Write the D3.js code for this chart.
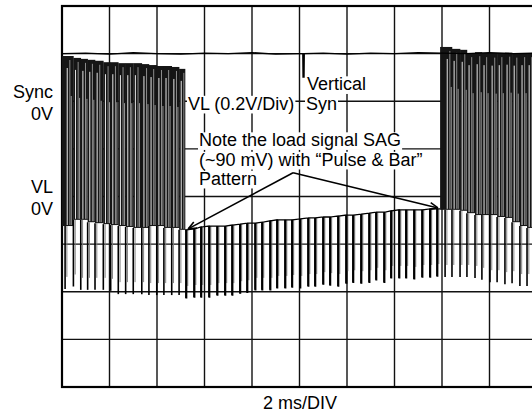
<!DOCTYPE html>
<html>
<head>
<meta charset="utf-8">
<script src="https://cdn.jsdelivr.net/npm/d3@7"></script>
<style>
  body { margin: 0; background: #fff; }
  svg text { font-family: "Liberation Sans", Arial, Helvetica, sans-serif; fill: #000; }
</style>
</head>
<body>
<div id="chartContainer"></div>
<script>
// horizontal sync spikes: time (ms, 2 ms/div) and levels (divisions from bottom)
const leftSpikeMs = [0.13, 0.48, 0.79, 1.08, 1.39, 1.74, 2.05, 2.37, 2.68, 3.00, 3.36, 3.66, 3.99, 4.29, 4.62, 4.93];
const leftSpikeLow = [2.06, 2.11, 2.04, 2.04, 2.04, 2.04, 2.02, 1.95, 1.95, 1.95, 1.95, 1.93, 1.93, 1.93, 1.93, 1.93];
const leftLevel = [3.38, 3.51, 3.51, 3.46, 3.44, 3.42, 3.40, 3.38, 3.36, 3.34, 3.34, 3.38, 3.38, 3.34, 3.34, 3.30];
const leftTop = [6.95, 6.91, 6.89, 6.87, 6.85, 6.82, 6.82, 6.80, 6.80, 6.80, 6.78, 6.76, 6.74, 6.74, 6.72, 6.68];

const midSpikeMs = [5.22, 5.56, 5.85, 6.19, 6.53, 6.86, 7.16, 7.49, 7.79, 8.13, 8.42, 8.76, 9.05, 9.39, 9.68,
  10.02, 10.36, 10.65, 10.99, 11.28, 11.62, 11.96, 12.25, 12.59, 12.93, 13.22, 13.56, 13.85, 14.19, 14.48,
  14.82, 15.16, 15.49, 15.79];
const midSpikeLow = [1.87, 1.89, 1.89, 1.89, 1.93, 1.93, 1.93, 1.97, 1.99, 2.04, 2.04, 2.04, 2.08, 2.08, 2.10,
  2.08, 2.12, 2.12, 2.16, 2.14, 2.12, 2.18, 2.20, 2.18, 2.20, 2.25, 2.20, 2.29, 2.29, 2.29,
  2.27, 2.31, 2.31, 2.33];
const midLevel = [3.30, 3.32, 3.36, 3.38, 3.38, 3.38, 3.40, 3.42, 3.44, 3.44, 3.46, 3.49, 3.51, 3.51, 3.51,
  3.53, 3.55, 3.55, 3.57, 3.57, 3.59, 3.61, 3.61, 3.63, 3.65, 3.67, 3.67, 3.70, 3.72, 3.72,
  3.72, 3.72, 3.74, 3.74];

const rightSpikeMs = [16.13, 16.42, 16.76, 17.05, 17.39, 17.68, 18.02, 18.32, 18.65, 18.95, 19.28, 19.58];
const rightSpikeLow = [2.31, 2.31, 2.31, 2.31, 2.29, 2.25, 2.20, 2.20, 2.16, 2.18, 2.12, 2.12];
const rightLevel = [3.72, 3.72, 3.70, 3.65, 3.61, 3.61, 3.61, 3.57, 3.55, 3.46, 3.38, 3.34];
const rightTop = [7.14, 7.10, 7.08, 7.01, 7.03, 7.01, 7.00, 7.01, 7.02, 7.00, 7.01, 7.01];

const leftBlockMs = [0, 5.18];
const rightBlockMs = [15.92, 20];

// sync channel trace with the vertical sync pulse
const syncMs = [0, 1, 2, 3, 4, 5, 6, 7, 8, 9, 10, 10.14, 10.15, 10.19, 10.2, 11, 12, 13, 14, 15, 16, 17, 18, 19, 20];
const syncDiv = [7.0, 7.01, 6.99, 7.02, 7.0, 6.99, 7.01, 7.0, 7.02, 6.99, 7.0, 7.0, 6.51, 6.51, 7.0, 7.01, 6.99, 7.01, 7.0, 7.02, 7.01, 7.0, 7.02, 7.0, 7.01];

const svg = d3.select("#chartContainer")
  .append("svg")
  .attr("width", 532)
  .attr("height", 412);

svg.append("rect").attr("width", 532).attr("height", 412).attr("fill", "#fff");

const x = d3.scaleLinear().domain([0, 20]).range([62, 537]);
const y = d3.scaleLinear().domain([0, 8]).range([387, 6]);

// graticule
svg.append("g")
  .selectAll("line")
  .data(x.ticks(10))
  .enter()
  .append("line")
  .attr("x1", d => x(d)).attr("x2", d => x(d))
  .attr("y1", y(0)).attr("y2", y(8))
  .attr("stroke", "#111")
  .attr("stroke-width", 1.4);

svg.append("g")
  .selectAll("line")
  .data(y.ticks(8))
  .enter()
  .append("line")
  .attr("x1", x(0)).attr("x2", x(20))
  .attr("y1", d => y(d)).attr("y2", d => y(d))
  .attr("stroke", "#111")
  .attr("stroke-width", 1.4);

svg.append("rect")
  .attr("x", x(0)).attr("y", y(8))
  .attr("width", x(20) - x(0)).attr("height", y(0) - y(8))
  .attr("fill", "none")
  .attr("stroke", "#000")
  .attr("stroke-width", 2.2);

// dense video blocks
function drawBlock(times, tops, levels, range) {
  const cells = times.map((t, i) => ({
    t0: i === 0 ? range[0] : t,
    t1: i === times.length - 1 ? range[1] : times[i + 1],
    t: t,
    top: tops[i],
    level: levels[i]
  }));
  const g = svg.append("g");
  g.selectAll("rect")
    .data(cells)
    .enter()
    .append("rect")
    .attr("x", d => x(d.t0))
    .attr("width", d => x(d.t1) - x(d.t0) + 0.3)
    .attr("y", d => y(d.top))
    .attr("height", d => y(d.level) - y(d.top))
    .attr("fill", "#151515");

  // streaks inside each line period
  const streaks = [
    { off: 0.09, dy: 12, color: "#fff", w: 0.9 },
    { off: 0.2, dy: 4, color: "#aaa", w: 0.8 },
    { off: 0.26, dy: 40, color: "#eee", w: 0.6 }
  ];
  streaks.forEach((s, k) => {
    g.selectAll(".streak" + k)
      .data(cells.filter(d => d.t + s.off < d.t1))
      .enter()
      .append("line")
      .attr("x1", d => x(d.t + s.off)).attr("x2", d => x(d.t + s.off))
      .attr("y1", d => y(d.top) + s.dy)
      .attr("y2", d => y(d.level) - 1)
      .attr("stroke", s.color)
      .attr("stroke-width", s.w);
  });
}

drawBlock(leftSpikeMs, leftTop, leftLevel, leftBlockMs);
drawBlock(rightSpikeMs, rightTop, rightLevel, rightBlockMs);

// spikes below the blocks
function drawSpikes(times, lows, levels) {
  const g = svg.append("g");
  g.selectAll(".ghost")
    .data(times)
    .enter()
    .append("line")
    .attr("x1", d => x(d) + 1.8).attr("x2", d => x(d) + 1.8)
    .attr("y1", (d, i) => y(levels[i]))
    .attr("y2", (d, i) => y(lows[i]) - 12)
    .attr("stroke", "#777")
    .attr("stroke-width", 0.9);
  g.selectAll(".spike")
    .data(times)
    .enter()
    .append("line")
    .attr("x1", d => x(d)).attr("x2", d => x(d))
    .attr("y1", (d, i) => y(levels[i]))
    .attr("y2", (d, i) => y(lows[i]))
    .attr("stroke", "#000")
    .attr("stroke-width", 1.6);
}
drawSpikes(leftSpikeMs, leftSpikeLow, leftLevel);
drawSpikes(midSpikeMs, midSpikeLow, midLevel);
drawSpikes(rightSpikeMs, rightSpikeLow, rightLevel);

// sagging middle section
const midPts = [[leftBlockMs[1], midLevel[0]]];
midSpikeMs.forEach((t, i) => {
  midPts.push([t, midLevel[i]]);
  midPts.push([t, midSpikeLow[i]]);
  midPts.push([t + 0.03, midSpikeLow[i]]);
  midPts.push([t + 0.03, midLevel[i]]);
});
midPts.push([rightBlockMs[0], midLevel[midLevel.length - 1]]);

svg.append("path")
  .attr("d", d3.line().x(d => x(d[0])).y(d => y(d[1]))(midPts))
  .attr("fill", "none")
  .attr("stroke", "#000")
  .attr("stroke-width", 1.3);

svg.append("path")
  .attr("d", d3.line().x(d => x(d)).y((d, i) => y(syncDiv[i]))(syncMs))
  .attr("fill", "none")
  .attr("stroke", "#000")
  .attr("stroke-width", 1.4);

// annotations with white boxes
const fs = 18;
function label(tx, ty, str, anchor, boxed) {
  const g = svg.append("g");
  const box = g.append("rect").attr("fill", "#fff");
  const t = g.append("text")
    .attr("x", tx).attr("y", ty)
    .attr("font-size", fs + "px")
    .attr("text-anchor", anchor || "start")
    .text(str);
  if (boxed) {
    const b = t.node().getBBox();
    box.attr("x", b.x - 1).attr("width", b.width + 2)
      .attr("y", ty - 0.76 * fs).attr("height", 0.98 * fs);
  } else {
    box.remove();
  }
}

label(53, 98, "Sync", "end");
label(53, 120, "0V", "end");
label(53, 193, "VL", "end");
label(53, 215, "0V", "end");

label(188, 109.5, "VL (0.2V/Div)", "start", true);
label(307, 90, "Vertical", "start", true);
label(306, 109.5, "Syn", "start", true);
label(199, 146, "Note the load signal SAG", "start", true);
label(199, 165.5, "(~90 mV) with \u201cPulse & Bar\u201d", "start", true);
label(199, 184.5, "Pattern", "start", true);

label(300, 409, "2 ms/DIV", "middle");

// arrows to the start and end of the sag
const apex = [9.73, 4.50];
const tips = [[5.31, 3.32], [15.83, 3.76]];
tips.forEach(tip => {
  const x0 = x(apex[0]), y0 = y(apex[1]);
  const x1 = x(tip[0]), y1 = y(tip[1]);
  svg.append("line")
    .attr("x1", x0).attr("y1", y0).attr("x2", x1).attr("y2", y1)
    .attr("stroke", "#000").attr("stroke-width", 1.6);
  const a = Math.atan2(y0 - y1, x0 - x1);
  [-0.4, 0.4].forEach(da => {
    svg.append("line")
      .attr("x1", x1).attr("y1", y1)
      .attr("x2", x1 + 9 * Math.cos(a + da))
      .attr("y2", y1 + 9 * Math.sin(a + da))
      .attr("stroke", "#000").attr("stroke-width", 1.6);
  });
});
</script>
</body>
</html>
